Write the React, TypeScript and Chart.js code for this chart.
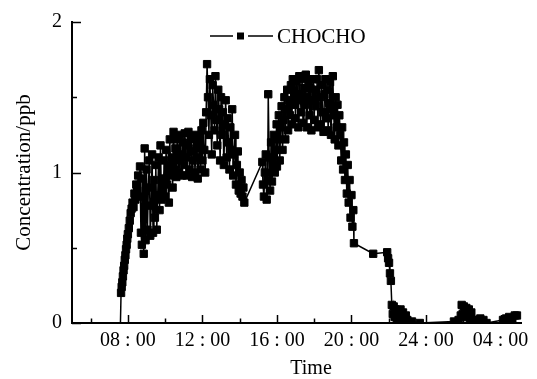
import React, { useEffect, useRef } from "react";
import { Chart, registerables } from "chart.js";

Chart.register(...registerables);

// Sample times (HH:MM, times before 05:00 belong to the next day)
const times = [
  "07:36","07:38","07:40","07:42","07:44","07:46","07:48","07:50","07:52","07:54","07:56","07:58",
  "08:00","08:03","08:06","08:09","08:12","08:15","08:18","08:21","08:24","08:27","08:30","08:33","08:36","08:39","08:42","08:45","08:48","08:51","08:54","08:57",
  "09:00","09:03","09:06","09:09","09:12","09:15","09:18","09:21","09:24","09:27","09:30","09:33","09:36","09:39","09:42","09:45","09:48","09:51","09:54","09:57",
  "10:00","10:03","10:06","10:09","10:12","10:15","10:18","10:21","10:24","10:27","10:30","10:33","10:36","10:39","10:42","10:45","10:48","10:51","10:54","10:57",
  "11:00","11:03","11:06","11:09","11:12","11:15","11:18","11:21","11:24","11:27","11:30","11:33","11:36","11:39","11:42","11:45","11:48","11:51","11:54","11:57",
  "12:00","12:03","12:06","12:09","12:12","12:15","12:18","12:21","12:24","12:27","12:30","12:33","12:36","12:39","12:42","12:45","12:48","12:51","12:54","12:57",
  "13:00","13:03","13:06","13:09","13:12","13:15","13:18","13:21","13:24","13:27","13:30","13:33","13:36","13:39","13:42","13:45","13:48","13:51","13:54","13:57",
  "14:00","14:03","14:06","14:09","14:12","14:15",
  "15:13","15:15","15:18","15:21","15:24","15:27","15:30","15:32","15:35","15:38","15:41","15:44","15:47","15:50","15:53","15:56","15:59",
  "16:00","16:03","16:06","16:09","16:12","16:15","16:18","16:21","16:24","16:27","16:30","16:33","16:36","16:39","16:42","16:45","16:48","16:51","16:54","16:57",
  "17:00","17:03","17:06","17:09","17:12","17:15","17:18","17:21","17:24","17:27","17:30","17:33","17:36","17:39","17:42","17:45","17:48","17:51","17:54","17:57",
  "18:00","18:03","18:06","18:09","18:12","18:15","18:18","18:21","18:24","18:27","18:30","18:33","18:36","18:39","18:42","18:45","18:48","18:51","18:54","18:57",
  "19:00","19:03","19:06","19:09","19:12","19:15","19:18","19:21","19:24","19:27","19:30","19:33","19:36","19:39","19:42","19:45","19:48","19:51","19:54","19:57",
  "20:00","20:03","20:06","20:08",
  "21:10","21:55","21:58","22:01","22:04","22:07","22:10","22:13","22:16","22:19",
  "22:22","22:26","22:30","22:34","22:38","22:42","22:46","22:50","22:55","23:00",
  "23:15","23:40",
  "01:30","01:45","01:52","01:55","01:58","02:02","02:06","02:10","02:14","02:18",
  "02:22","02:26","02:30","02:35","02:45","02:55","03:05","03:15","04:08","04:18",
  "04:28","04:38","04:46","04:53",
];

// CHOCHO concentration (ppb)
const chocho = [
  0, 0.20, 0.24, 0.27, 0.31, 0.35, 0.38, 0.42, 0.45, 0.49, 0.52, 0.56,
  0.59, 0.63, 0.68, 0.73, 0.76, 0.80, 0.77, 0.86, 0.82, 0.92, 0.88, 0.98, 0.84, 1.04, 0.60, 0.52, 0.96, 0.46, 1.16, 0.55,
  1.02, 0.62, 0.90, 1.08, 0.58, 0.78, 1.12, 0.60, 0.95, 0.70, 1.05, 0.62, 0.85, 1.10, 0.75, 1.18, 0.82, 0.96, 0.88, 1.08,
  0.84, 1.15, 0.92, 1.05, 0.80, 1.22, 0.98, 1.10, 0.90, 1.27, 1.02, 1.16, 0.97, 1.22, 1.08, 1.00, 1.25, 1.12, 0.98, 1.20,
  1.05, 1.26, 1.10, 0.98, 1.18, 1.27, 1.02, 1.14, 1.22, 0.97, 1.08, 1.25, 1.00, 1.16, 1.24, 0.96, 1.10, 1.20, 1.02, 1.28,
  1.08, 1.33, 1.15, 1.00, 1.40, 1.72, 1.50, 1.25, 1.62, 1.38, 1.12, 1.58, 1.45, 1.28, 1.64, 1.35, 1.18, 1.55, 1.42, 1.08,
  1.50, 1.25, 1.40, 1.05, 1.32, 1.48, 1.10, 1.36, 1.20, 1.02, 1.30, 1.15, 1.42, 0.98, 1.12, 1.25, 0.92, 1.05, 1.14, 0.88,
  1.00, 0.86, 0.95, 0.84, 0.90, 0.80,
  1.07, 0.92, 0.84, 1.00, 1.12, 0.82, 0.95, 1.52, 1.10, 0.88, 1.20, 0.94, 1.05, 1.25, 1.00, 1.15, 1.32,
  1.04, 1.22, 1.38, 1.08, 1.30, 1.44, 1.15, 1.35, 1.50, 1.22, 1.42, 1.55, 1.28, 1.48, 1.38, 1.58, 1.32, 1.62, 1.45, 1.55,
  1.36, 1.60, 1.48, 1.30, 1.64, 1.52, 1.40, 1.62, 1.33, 1.56, 1.45, 1.65, 1.30, 1.50, 1.60, 1.38, 1.56, 1.28, 1.48, 1.62,
  1.35, 1.55, 1.44, 1.62, 1.30, 1.68, 1.50, 1.32, 1.58, 1.40, 1.27, 1.52, 1.62, 1.36, 1.55, 1.28, 1.46, 1.60, 1.25, 1.42,
  1.64, 1.38, 1.22, 1.50, 1.30, 1.45, 1.18, 1.38, 1.25, 1.08, 1.30, 1.02, 1.20, 0.95, 1.12, 0.86, 1.05, 0.80, 0.95, 0.70,
  0.85, 0.64, 0.75, 0.53,
  0.46, 0.47, 0.43, 0.40, 0.33, 0.28, 0.12, 0.06, 0.11, 0.04,
  0.09, 0.03, 0.08, 0.05, 0.09, 0.02, 0.07, 0.03, 0.05, 0.02,
  0.01, 0.00,
  0.01, 0.02, 0.05, 0.12, 0.06, 0.11, 0.04, 0.10, 0.05, 0.09,
  0.03, 0.07, 0.02, 0.01, 0.02, 0.03, 0.02, 0.00, 0.02, 0.03,
  0.04, 0.03, 0.05, 0.05,
];

const seriesName = "CHOCHO";
const xLabelHours = [8, 12, 16, 20, 24, 28];
const xLabels = ["08 : 00", "12 : 00", "16 : 00", "20 : 00", "24 : 00", "04 : 00"];
const xMinorHours = [6, 10, 14, 18, 22, 26];
const yLabelValues = [0, 1, 2];
const yMinorValues = [0.5, 1.5];
const xTitle = "Time";
const yTitle = "Concentration/ppb";

const FONT = "'Liberation Serif', 'Times New Roman', serif";

function toHours(s: string): number {
  const [h, m] = s.split(":").map(Number);
  const v = h + m / 60;
  return v < 5 ? v + 24 : v;
}

const decorPlugin = {
  id: "decor",
  afterDraw(chart: any) {
    const { ctx, chartArea, scales } = chart;
    const xs = scales.x;
    const ys = scales.y;
    ctx.save();
    ctx.strokeStyle = "#000";
    ctx.lineWidth = 1.5;
    const xt = [...xLabelHours.map((h) => [h, 8]), ...xMinorHours.map((h) => [h, 4.5])];
    for (const [h, len] of xt) {
      const px = Math.round(xs.getPixelForValue(h)) + 0.5;
      ctx.beginPath();
      ctx.moveTo(px, chartArea.bottom);
      ctx.lineTo(px, chartArea.bottom - len);
      ctx.stroke();
    }
    const yt = [...yLabelValues.map((v) => [v, 9]), ...yMinorValues.map((v) => [v, 5])];
    for (const [v, len] of yt) {
      const py = Math.round(ys.getPixelForValue(v)) + 0.5;
      ctx.beginPath();
      ctx.moveTo(chartArea.left, py);
      ctx.lineTo(chartArea.left + len, py);
      ctx.stroke();
    }
    ctx.fillStyle = "#000";
    ctx.font = `20px ${FONT}`;
    ctx.textAlign = "center";
    ctx.textBaseline = "middle";
    ctx.fillText(xTitle, 311, 369);
    const ly = 36;
    ctx.lineWidth = 1.5;
    ctx.beginPath();
    ctx.moveTo(210, ly);
    ctx.lineTo(233, ly);
    ctx.moveTo(248, ly);
    ctx.lineTo(273, ly);
    ctx.stroke();
    ctx.fillRect(237, ly - 3.5, 7, 7);
    ctx.font = `21px ${FONT}`;
    ctx.textAlign = "left";
    ctx.fillText(seriesName, 277, ly + 1);
    ctx.restore();
  },
};

export default function App() {
  const ref = useRef<HTMLCanvasElement | null>(null);
  useEffect(() => {
    if (!ref.current) return;
    const data = times.map((t, i) => ({ x: toHours(t), y: chocho[i] }));
    const chart = new Chart(ref.current, {
      type: "line",
      data: {
        datasets: [
          {
            label: seriesName,
            data,
            borderColor: "#000",
            backgroundColor: "#000",
            borderWidth: 1.5,
            pointStyle: "rect",
            pointRadius: (c: any) => (c.dataIndex === 0 ? 0 : 5.2),
            pointBorderWidth: 1,
            pointBorderColor: "#000",
            pointBackgroundColor: "#000",
            tension: 0,
            clip: { left: 8, right: 8, top: 8, bottom: 0 },
          } as any,
        ],
      },
      options: {
        animation: false,
        responsive: false,
        devicePixelRatio: 1,
        parsing: false as any,
        layout: { padding: { left: 0, right: 16, top: 18, bottom: 0 } },
        plugins: { legend: { display: false }, tooltip: { enabled: false } },
        scales: {
          x: {
            type: "linear",
            min: 5,
            max: 29.1,
            grid: { display: false, drawTicks: false },
            border: { display: true, color: "#000", width: 2 },
            afterBuildTicks: (s: any) => {
              s.ticks = xLabelHours.map((v) => ({ value: v }));
            },
            afterFit: (s: any) => {
              s.height = 56;
            },
            ticks: {
              color: "#000",
              font: { family: FONT, size: 20 },
              padding: 6,
              maxRotation: 0,
              autoSkip: false,
              callback: (v: any) => {
                const i = xLabelHours.indexOf(Number(v));
                return i >= 0 ? xLabels[i] : "";
              },
            },
          },
          y: {
            type: "linear",
            min: 0,
            max: 2,
            grid: { display: false, drawTicks: false },
            border: { display: true, color: "#000", width: 2 },
            afterBuildTicks: (s: any) => {
              s.ticks = yLabelValues.map((v) => ({ value: v }));
            },
            afterFit: (s: any) => {
              s.width = 72;
            },
            ticks: {
              color: "#000",
              font: { family: FONT, size: 20 },
              padding: 10,
              callback: (v: any) => String(v),
            },
            title: {
              display: true,
              text: yTitle,
              color: "#000",
              font: { family: FONT, size: 21 },
              padding: { top: 12, bottom: 0 },
            },
          },
        },
      },
      plugins: [decorPlugin],
    });
    return () => chart.destroy();
  }, []);
  return (
    <div style={{ position: "absolute", left: 0, top: 0, width: 537, height: 379, background: "#fff" }}>
      <canvas ref={ref} width={537} height={379} style={{ display: "block" }} />
    </div>
  );
}
